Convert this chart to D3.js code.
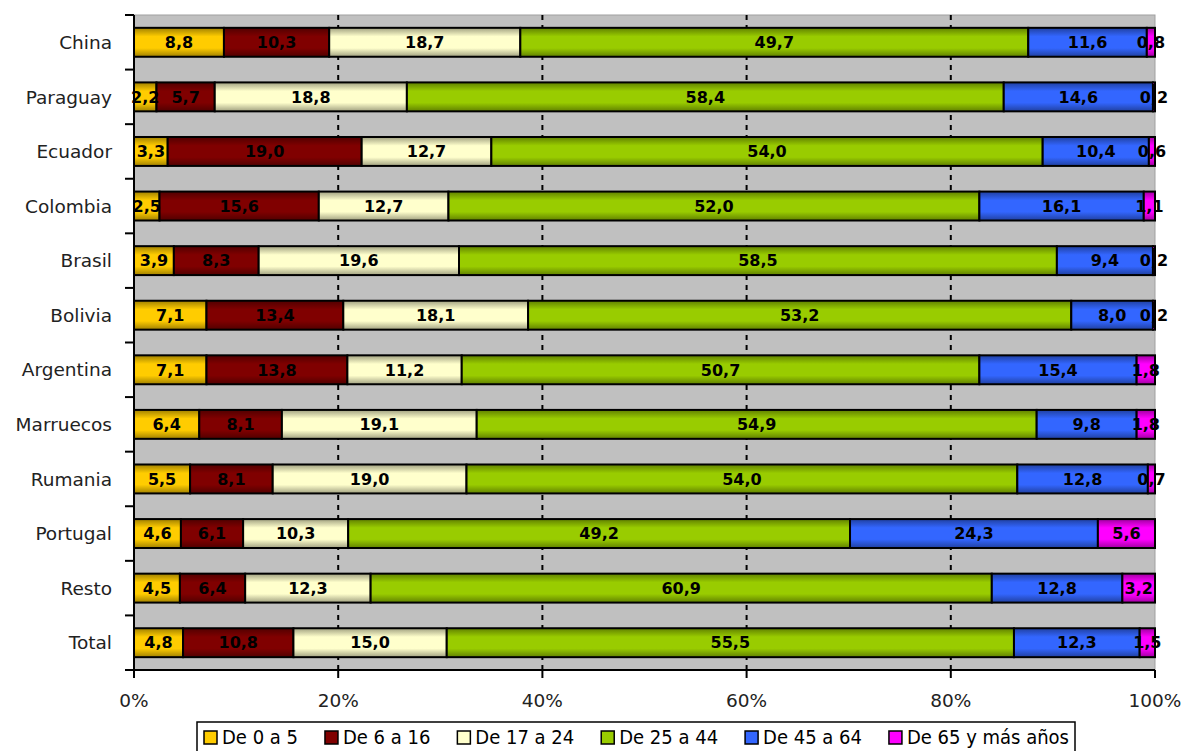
<!DOCTYPE html>
<html>
<head>
<meta charset="utf-8">
<script src="https://cdn.jsdelivr.net/npm/d3@7"></script>
<style>
  html, body { margin: 0; padding: 0; background: #ffffff; }
  svg { display: block; }
</style>
</head>
<body>
<svg id="chart" width="1185" height="751"></svg>
<script>
// ---- Data ----
const categories = ["China", "Paraguay", "Ecuador", "Colombia", "Brasil", "Bolivia",
                    "Argentina", "Marruecos", "Rumania", "Portugal", "Resto", "Total"];
const seriesNames = ["De 0 a 5", "De 6 a 16", "De 17 a 24", "De 25 a 44", "De 45 a 64", "De 65 y más años"];
const age0to5   = [8.8, 2.2, 3.3, 2.5, 3.9, 7.1, 7.1, 6.4, 5.5, 4.6, 4.5, 4.8];
const age6to16  = [10.3, 5.7, 19.0, 15.6, 8.3, 13.4, 13.8, 8.1, 8.1, 6.1, 6.4, 10.8];
const age17to24 = [18.7, 18.8, 12.7, 12.7, 19.6, 18.1, 11.2, 19.1, 19.0, 10.3, 12.3, 15.0];
const age25to44 = [49.7, 58.4, 54.0, 52.0, 58.5, 53.2, 50.7, 54.9, 54.0, 49.2, 60.9, 55.5];
const age45to64 = [11.6, 14.6, 10.4, 16.1, 9.4, 8.0, 15.4, 9.8, 12.8, 24.3, 12.8, 12.3];
const age65plus = [0.8, 0.2, 0.6, 1.1, 0.2, 0.2, 1.8, 1.8, 0.7, 5.6, 3.2, 1.5];
const xTicks = [0, 0.2, 0.4, 0.6, 0.8, 1.0];
const colors = ["#FFCC00", "#800000", "#FFFFCC", "#99CC00", "#3366FF", "#FF00FF"];

const seriesValues = [age0to5, age6to16, age17to24, age25to44, age45to64, age65plus];

// ---- Layout ----
const svg = d3.select("#chart");
const plot = { left: 134, right: 1155, top: 15, bottom: 670 };

const x = d3.scaleLinear().domain([0, 1]).range([plot.left, plot.right]);
const y = d3.scaleBand().domain(categories).range([plot.top, plot.bottom])
  .paddingInner(0.47).paddingOuter(0.235);

// gradients
const defs = svg.append("defs");
colors.forEach((c, i) => {
  const base = d3.color(c);
  const g = defs.append("linearGradient").attr("id", "grad" + i)
    .attr("x1", 0).attr("y1", 0).attr("x2", 0).attr("y2", 1);
  g.append("stop").attr("offset", "0%").attr("stop-color", base.darker(1.3));
  g.append("stop").attr("offset", "30%").attr("stop-color", base);
  g.append("stop").attr("offset", "70%").attr("stop-color", base);
  g.append("stop").attr("offset", "100%").attr("stop-color", base.darker(1.3));
});

// plot background
svg.append("rect")
  .attr("x", plot.left).attr("y", plot.top)
  .attr("width", plot.right - plot.left).attr("height", plot.bottom - plot.top)
  .attr("fill", "#C0C0C0").attr("stroke", "#A0A0A0").attr("stroke-width", 1);

// dashed gridlines
svg.append("g").selectAll("line")
  .data(xTicks.filter(t => t > 0 && t < 1))
  .join("line")
  .attr("x1", d => x(d)).attr("x2", d => x(d))
  .attr("y1", plot.top).attr("y2", plot.bottom)
  .attr("stroke", "#000").attr("stroke-width", 2).attr("stroke-dasharray", "5,5");

// stacked data (normalized to 100%)
const rows = categories.map((cat, i) => {
  const vals = seriesValues.map(s => s[i]);
  const total = d3.sum(vals);
  let acc = 0;
  return vals.map((v, k) => {
    const seg = { cat, k, v, x0: acc / total, x1: (acc + v) / total };
    acc += v;
    return seg;
  });
});
const segs = rows.flat();

const bars = svg.append("g");
bars.selectAll("rect")
  .data(segs)
  .join("rect")
  .attr("x", d => x(d.x0))
  .attr("y", d => y(d.cat))
  .attr("width", d => Math.max(0, x(d.x1) - x(d.x0)))
  .attr("height", y.bandwidth())
  .attr("fill", d => `url(#grad${d.k})`)
  .attr("stroke", "#000")
  .attr("stroke-width", 2);

const fmt = v => v.toFixed(1).replace(".", ",");
svg.append("g").selectAll("text")
  .data(segs)
  .join("text")
  .attr("x", d => (x(d.x0) + x(d.x1)) / 2)
  .attr("y", d => y(d.cat) + y.bandwidth() / 2)
  .attr("dy", "0.36em")
  .attr("text-anchor", "middle")
  .attr("font-family", "DejaVu Sans")
  .attr("font-weight", "bold")
  .attr("font-size", 16)
  .attr("fill", "#000")
  .text(d => fmt(d.v));

// left axis
const step = y.step();
const leftAxis = svg.append("g");
leftAxis.append("line")
  .attr("x1", plot.left).attr("x2", plot.left)
  .attr("y1", plot.top).attr("y2", plot.bottom)
  .attr("stroke", "#000").attr("stroke-width", 2);
leftAxis.selectAll("line.tick")
  .data(d3.range(categories.length + 1))
  .join("line").attr("class", "tick")
  .attr("x1", plot.left - 9).attr("x2", plot.left)
  .attr("y1", i => plot.top + i * step).attr("y2", i => plot.top + i * step)
  .attr("stroke", "#000").attr("stroke-width", 2);
leftAxis.selectAll("text")
  .data(categories)
  .join("text")
  .attr("x", 112)
  .attr("y", d => y(d) + y.bandwidth() / 2)
  .attr("dy", "0.36em")
  .attr("text-anchor", "end")
  .attr("font-family", "DejaVu Sans")
  .attr("font-size", 18.5)
  .attr("fill", "#222")
  .text(d => d);

// bottom axis
const bottom = svg.append("g");
bottom.append("line")
  .attr("x1", plot.left).attr("x2", plot.right)
  .attr("y1", plot.bottom).attr("y2", plot.bottom)
  .attr("stroke", "#000").attr("stroke-width", 2);
bottom.selectAll("line.tick")
  .data(xTicks)
  .join("line").attr("class", "tick")
  .attr("x1", d => x(d)).attr("x2", d => x(d))
  .attr("y1", plot.bottom).attr("y2", plot.bottom + 8)
  .attr("stroke", "#000").attr("stroke-width", 2);
bottom.selectAll("text")
  .data(xTicks)
  .join("text")
  .attr("x", d => x(d))
  .attr("y", 707)
  .attr("text-anchor", "middle")
  .attr("font-family", "DejaVu Sans")
  .attr("font-size", 18.5)
  .attr("fill", "#222")
  .text(d => d3.format(".0%")(d));

// legend
const legend = svg.append("g");
const lgX0 = 197, lgX1 = 1075;
legend.append("rect")
  .attr("x", lgX0).attr("y", 722).attr("width", lgX1 - lgX0).attr("height", 40)
  .attr("fill", "#fff").attr("stroke", "#000").attr("stroke-width", 1.5);
const items = seriesNames.map((name, i) => {
  const gItem = legend.append("g");
  gItem.append("rect")
    .attr("y", 731).attr("width", 13).attr("height", 13)
    .attr("fill", colors[i]).attr("stroke", "#000").attr("stroke-width", 1.5);
  const t = gItem.append("text")
    .attr("x", 18).attr("y", 744)
    .attr("font-family", "DejaVu Sans Condensed")
    .attr("font-stretch", "condensed")
    .attr("font-size", 20)
    .attr("fill", "#000")
    .text(name);
  return { g: gItem, w: 18 + t.node().getComputedTextLength() };
});
const innerStart = lgX0 + 7, innerEnd = lgX1 - 6;
const gap = (innerEnd - innerStart - d3.sum(items, d => d.w)) / (items.length - 1);
let lx = innerStart;
items.forEach(it => {
  it.g.attr("transform", `translate(${lx},0)`);
  lx += it.w + gap;
});
</script>
</body>
</html>
